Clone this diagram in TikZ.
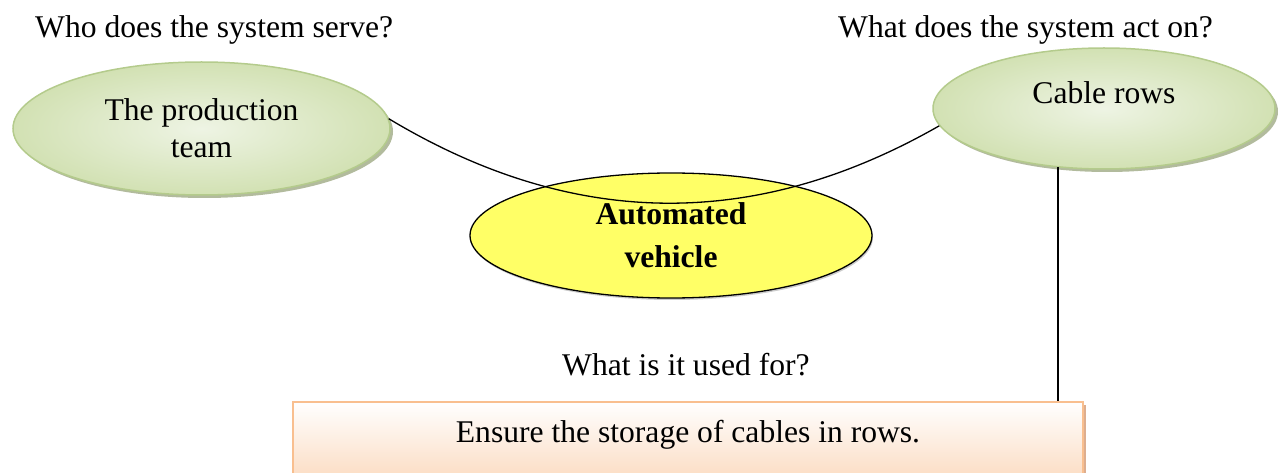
\documentclass[tikz,border=0pt]{standalone}
\usepackage{fontspec}
\setmainfont{Liberation Serif}
\usetikzlibrary{shapes.geometric,shadows}

\definecolor{ginner}{HTML}{EEF4E4}
\definecolor{gouter}{HTML}{D2E1B3}
\definecolor{gborder}{HTML}{B4CB8C}
\definecolor{gshadow}{HTML}{9FAA85}
\definecolor{hubfill}{HTML}{FFFF66}
\definecolor{peach}{HTML}{FAD2B1}
\definecolor{peachborder}{HTML}{F9BF8F}
\definecolor{peachshadow}{HTML}{D9A583}

\tikzset{
  txt/.style={inner sep=0pt, font=\fontsize{31.6}{37}\selectfont},
  greenell/.style={txt, ellipse, draw=gborder, line width=1.5pt,
    inner color=ginner, outer color=gouter,
    drop shadow={shadow xshift=3pt, shadow yshift=-3pt, fill=gshadow, opacity=.8}},
  hubell/.style={txt, ellipse, draw=black, line width=1.3pt, fill=hubfill,
    drop shadow={shadow xshift=1pt, shadow yshift=-2pt, fill=black!40, opacity=.5}},
  usebox/.style={txt, rectangle, draw=peachborder, line width=1.6pt,
    shading=axis, top color=white, middle color=peach!85!white, bottom color=peach,
    drop shadow={shadow xshift=3pt, shadow yshift=-3pt, fill=peachshadow, opacity=.9}},
  link/.style={draw=black, line width=1.3pt},
  question/.style={txt, anchor=base west}
}

\begin{document}
\begin{tikzpicture}[x=1pt,y=-1pt]
  \useasboundingbox (0,0) rectangle (1278,473);

  % questions
  \node[question] (q1) at (35,38) {Who does the system serve?};
  \node[question] (q2) at (838,38) {What does the system act on?};
  \node[question] (q3) at (562,375) {What is it used for?};

  % actor and object
  \node[greenell, minimum width=377pt, minimum height=133pt, align=center,
        text height=58.6pt, text depth=-4.4pt] (L) at (201.5,128.5)
        {The production\\team};
  \node[greenell, minimum width=342pt, minimum height=121pt,
        text height=21.6pt, text depth=30.6pt] (R) at (1104,108.5) {Cable rows};

  % the system itself
  \node[hubell, minimum width=402pt, minimum height=125pt, align=center,
        font=\fontsize{31.6}{43}\selectfont\bfseries,
        text height=64.4pt, text depth=-8.6pt] (C) at (671,235.5)
        {Automated\\vehicle};

  % purpose
  \node[usebox, minimum width=790pt, anchor=north, inner ysep=19.4pt,
        text height=21.6pt, text depth=40pt] (B) at (688,401)
        {Ensure the storage of cables in rows.};

  % connectors
  \draw[link] (L.3) .. controls (572.7,229.3) and (755.3,231) .. (R.186);
  \coordinate (vt) at (R.232);
  \draw[link] (vt) -- (vt |- B.north);
\end{tikzpicture}
\end{document}
